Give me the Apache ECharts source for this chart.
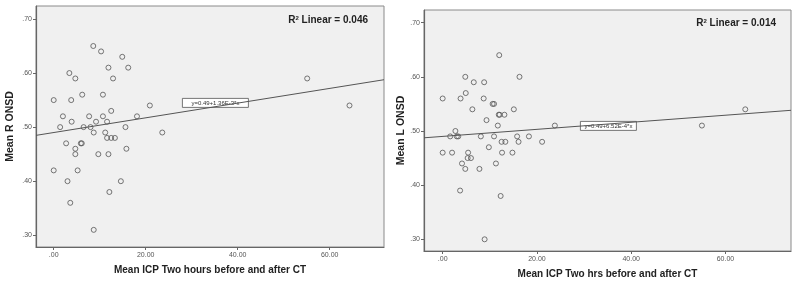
<!DOCTYPE html>
<html>
<head>
<meta charset="utf-8">
<script src="https://cdn.jsdelivr.net/npm/echarts@6/dist/echarts.min.js"></script>
<style>
  html, body { margin: 0; padding: 0; background: #fff; }
  #chart { width: 800px; height: 284px; }
</style>
</head>
<body>
<div id="chart"></div>
<script>
// left panel: Mean R ONSD vs Mean ICP (two hours before/after CT)
var icpR = [8.6, 10.3, 14.9, 11.9, 16.2, 3.4, 4.7, 12.9, 0, 3.8, 6.2, 10.7, 20.9, 12.5,
    2.0, 7.7, 10.7, 18.1, 3.9, 9.2, 11.6, 1.4, 6.5, 8.0, 15.6, 8.7, 11.2, 23.6,
    11.6, 12.5, 13.3, 2.7, 5.9, 6.1, 4.7, 15.8, 4.7, 9.7, 11.9, 0, 5.2, 3.0, 14.6,
    12.1, 3.6, 8.7, 55.1, 64.3];
var onsdR = [0.65, 0.64, 0.63, 0.61, 0.61, 0.60, 0.59, 0.59, 0.55, 0.55, 0.56, 0.56, 0.54, 0.53,
    0.52, 0.52, 0.52, 0.52, 0.51, 0.51, 0.51, 0.50, 0.50, 0.50, 0.50, 0.49, 0.49, 0.49,
    0.48, 0.48, 0.48, 0.47, 0.47, 0.47, 0.46, 0.46, 0.45, 0.45, 0.45, 0.42, 0.42, 0.40, 0.40,
    0.38, 0.36, 0.31, 0.59, 0.54];

// right panel: Mean L ONSD vs Mean ICP (two hrs before/after CT)
var icpL = [12.0, 4.8, 6.6, 8.8, 16.3, 0, 3.8, 4.9, 8.7, 6.3, 10.6, 10.9, 15.1, 9.3,
    11.9, 12.1, 13.1, 11.7, 23.8, 2.7, 1.6, 3.0, 3.3, 8.1, 10.9, 15.8, 18.3, 12.5, 13.3,
    16.1, 21.1, 9.8, 0, 2.0, 5.4, 12.6, 14.8, 5.3, 6.0, 4.1, 11.3, 4.8, 7.8, 3.7, 12.3,
    8.9, 64.2, 55.0];
var onsdL = [0.64, 0.60, 0.59, 0.59, 0.60, 0.56, 0.56, 0.57, 0.56, 0.54, 0.55, 0.55, 0.54, 0.52,
    0.53, 0.53, 0.53, 0.51, 0.51, 0.50, 0.49, 0.49, 0.49, 0.49, 0.49, 0.49, 0.49, 0.48, 0.48,
    0.48, 0.48, 0.47, 0.46, 0.46, 0.46, 0.46, 0.46, 0.45, 0.45, 0.44, 0.44, 0.43, 0.43, 0.39, 0.38,
    0.30, 0.54, 0.51];

var xTicks = [0, 20, 40, 60];
var yTicks = [0.3, 0.4, 0.5, 0.6, 0.7];

// fit lines [intercept, slope]
var fitR = [0.49, 1.36e-3];
var fitL = [0.49, 6.52e-4];
var r2R = '0.046';
var r2L = '0.014';

var xRangeR = [-3.85, 71.8];
var xRangeL = [-3.96, 73.9];

function pairs(xs, ys) {
    var out = [];
    for (var i = 0; i < xs.length; i++) {
        out.push([xs[i], ys[i]]);
    }
    return out;
}

function fitLine(fit, range) {
    return [[range[0], fit[0] + fit[1] * range[0]], [range[1], fit[0] + fit[1] * range[1]]];
}

var tickColor = '#555';
var font = 'Liberation Sans, Arial, sans-serif';

function xAxisFor(idx, range, name) {
    return {
        type: 'value',
        gridIndex: idx,
        min: range[0],
        max: range[1],
        splitLine: { show: false },
        axisLine: { show: true, onZero: false, lineStyle: { color: '#666', width: 1.2 } },
        axisTick: { show: true, length: 3, customValues: xTicks, lineStyle: { color: '#666' } },
        axisLabel: {
            customValues: xTicks,
            fontSize: 7,
            color: tickColor,
            margin: 5,
            fontFamily: font,
            formatter: function (v) { return v === 0 ? '.00' : v.toFixed(2); }
        },
        name: name,
        nameLocation: 'middle',
        nameGap: 18,
        nameTextStyle: { fontSize: 10, fontWeight: 'bold', color: '#222', fontFamily: font }
    };
}

function yAxisFor(idx, range, name, gap) {
    return {
        type: 'value',
        gridIndex: idx,
        min: range[0],
        max: range[1],
        splitLine: { show: false },
        axisLine: { show: true, onZero: false, lineStyle: { color: '#666', width: 1.2 } },
        axisTick: { show: true, length: 3, customValues: yTicks, lineStyle: { color: '#666' } },
        axisLabel: {
            customValues: yTicks,
            fontSize: 7,
            color: tickColor,
            margin: 4,
            fontFamily: font,
            formatter: function (v) { return '.' + Math.round(v * 100); }
        },
        name: name,
        nameLocation: 'middle',
        nameRotate: 90,
        nameGap: gap,
        nameTextStyle: { fontSize: 10.5, fontWeight: 'bold', color: '#222', fontFamily: font }
    };
}

function scatterSeries(idx, data) {
    return {
        type: 'scatter',
        xAxisIndex: idx,
        yAxisIndex: idx,
        data: data,
        symbol: 'circle',
        symbolSize: 5,
        silent: true,
        itemStyle: { color: 'rgba(0,0,0,0)', borderColor: '#555', borderWidth: 1 }
    };
}

function lineSeries(idx, data) {
    return {
        type: 'line',
        xAxisIndex: idx,
        yAxisIndex: idx,
        data: data,
        symbol: 'none',
        silent: true,
        lineStyle: { color: '#555', width: 1 }
    };
}

function r2Text(right, top, val) {
    return {
        type: 'text',
        right: right,
        top: top,
        style: {
            rich: {
                b: { fontSize: 10, fontWeight: 'bold', fill: '#222', fontFamily: font },
                s: { fontSize: 6, fontWeight: 'bold', fill: '#222', fontFamily: font, verticalAlign: 'top', padding: [0, 0, 5, 0] }
            },
            text: '{b|R}{s|2}{b| Linear = ' + val + '}'
        }
    };
}

function eqBox(left, top, w, h, txt) {
    return {
        type: 'group',
        left: left,
        top: top,
        children: [
            { type: 'rect', shape: { x: 0, y: 0, width: w, height: h },
              style: { fill: '#fff', stroke: '#555', lineWidth: 0.8 } },
            { type: 'text', x: w / 2, y: h / 2 + 0.5,
              style: { text: txt, fontSize: 6, fill: '#333', fontFamily: font, align: 'center', verticalAlign: 'middle' } }
        ]
    };
}

var chart = echarts.init(document.getElementById('chart'));

var option = {
    backgroundColor: '#fff',
    animation: false,
    grid: [
        { left: 36, top: 6, width: 348, height: 241, show: true, backgroundColor: '#f0f0f0', borderColor: '#8a8a8a', borderWidth: 1 },
        { left: 424, top: 10, width: 367, height: 241, show: true, backgroundColor: '#f0f0f0', borderColor: '#8a8a8a', borderWidth: 1 }
    ],
    xAxis: [
        xAxisFor(0, xRangeR, 'Mean ICP Two hours before and after CT'),
        xAxisFor(1, xRangeL, 'Mean ICP Two hrs before and after CT')
    ],
    yAxis: [
        yAxisFor(0, [0.2783, 0.724], 'Mean R ONSD', 20),
        yAxisFor(1, [0.2784, 0.7234], 'Mean L ONSD', 15)
    ],
    series: [
        lineSeries(0, fitLine(fitR, xRangeR)),
        scatterSeries(0, pairs(icpR, onsdR)),
        lineSeries(1, fitLine(fitL, xRangeL)),
        scatterSeries(1, pairs(icpL, onsdL))
    ],
    graphic: [
        r2Text(800 - 368, 15, r2R),
        r2Text(800 - 776, 18, r2L),
        eqBox(182, 98, 66, 9, 'y=0.49+1.36E-3*x'),
        eqBox(580, 121, 56, 9, 'y=0.49+6.52E-4*x')
    ]
};

chart.setOption(option);
</script>
</body>
</html>
